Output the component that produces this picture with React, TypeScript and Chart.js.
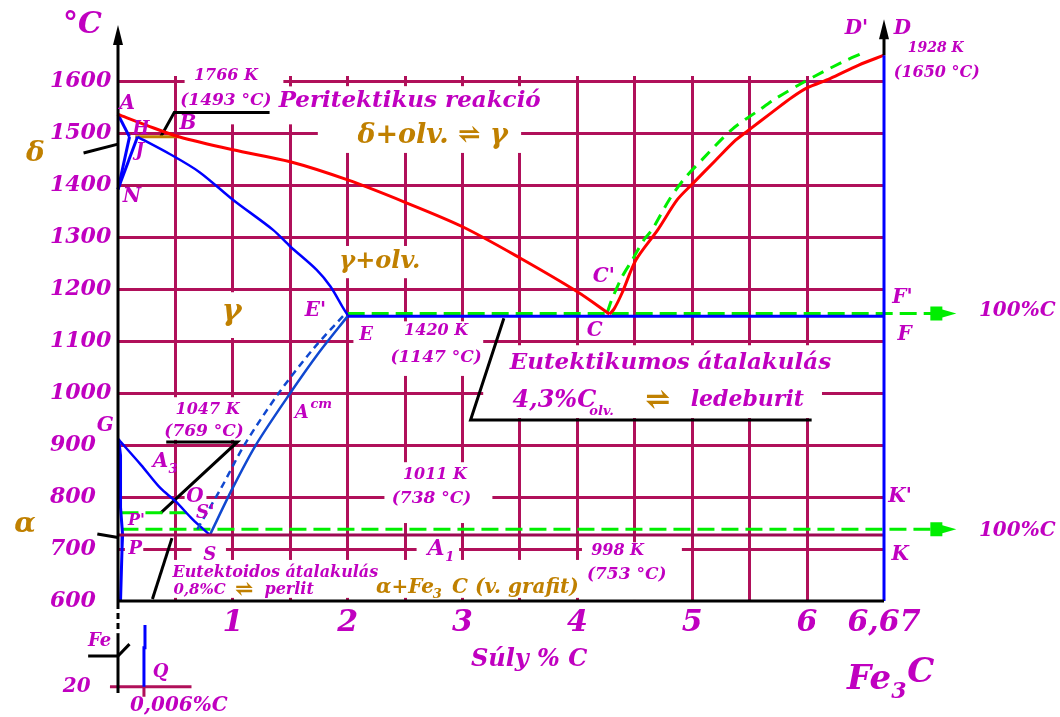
import React, { useEffect, useRef } from 'react';
import { Chart, registerables } from 'chart.js';

Chart.register(...registerables);

const MAG = '#c000c0';
const OCH = '#c08000';
const GRID = '#b0105a';
const EUTECTOID = '#9c0a52';
const BLUE = '#0000ff';
const ACM_BLUE = '#1048d0';
const GREEN = '#00ee00';
const FAMILY = '"DejaVu Serif", serif';

// ---- axis ticks ----
const tempTicks = [600, 700, 800, 900, 1000, 1100, 1200, 1300, 1400, 1500, 1600];
const carbonGrid = [0, 0.5, 1, 1.5, 2, 2.5, 3, 3.5, 4, 4.5, 5, 5.5, 6, 6.67];
const carbonLabels: Record<string, string> = { '1': '1', '2': '2', '3': '3', '4': '4', '5': '5', '6': '6', '6.67': '6,67' };

// ---- phase boundaries [ %C, °C ] ----
const liquidusAC: [number, number][] = [[0, 1536], [0.25, 1515], [0.53, 1493], [1.0, 1468], [1.5, 1445], [2.0, 1410], [2.5, 1367], [3.0, 1320], [3.5, 1260], [4.0, 1195], [4.28, 1152]];
const liquidusCD: [number, number][] = [[4.28, 1152], [4.32, 1162], [4.39, 1193], [4.51, 1256], [4.7, 1314], [4.87, 1372], [5.0, 1402], [5.2, 1447], [5.38, 1487], [5.48, 1504], [5.7, 1541], [5.87, 1569], [6.0, 1587], [6.2, 1605], [6.45, 1631], [6.67, 1650]];
const graphiteLiquidus: [number, number][] = [[4.26, 1155], [4.3, 1180], [4.39, 1224], [4.48, 1257], [4.58, 1295], [4.65, 1314], [4.8, 1372], [4.93, 1412], [5.09, 1450], [5.35, 1508], [5.58, 1544], [5.73, 1567], [5.97, 1598], [6.3, 1636], [6.48, 1654]];
const solidusJE: [number, number][] = [[0.17, 1493], [0.45, 1460], [0.71, 1425], [1.0, 1372], [1.35, 1314], [1.5, 1282], [1.73, 1237], [1.85, 1205], [1.96, 1164], [2.0, 1150]];
const deltaAH: [number, number][] = [[0, 1536], [0.1, 1493]];
const deltaNH: [number, number][] = [[0, 1392], [0.1, 1493]];
const deltaNJ: [number, number][] = [[0, 1392], [0.17, 1493]];
const peritecticHB: [number, number][] = [[0.15, 1493], [0.53, 1493]];
const eutecticEF: [number, number][] = [[2.0, 1148], [6.67, 1148]];
const graphiteEutectic: [number, number][] = [[2.0, 1153], [7.12, 1153]];
const acmES: [number, number][] = [[0.8, 727], [1.0, 818], [1.2, 900], [1.5, 1000], [1.75, 1078], [2.0, 1148]];
const acmGraphite: [number, number][] = [[0.69, 738], [0.9, 818], [1.1, 900], [1.4, 1000], [1.7, 1085], [1.98, 1153]];
const a3GS: [number, number][] = [[0, 912], [0.2, 862], [0.37, 817], [0.5, 792], [0.65, 757], [0.8, 727]];
const ferriteGP: [number, number][] = [[0.005, 912], [0.022, 880], [0.022, 780], [0.04, 727]];
const ferritePQ: [number, number][] = [[0.04, 727], [0.035, 700], [0.022, 600]];
const curieMO: [number, number][] = [[0.03, 770], [0.6, 770]];
const eutectoidPK: [number, number][] = [[0, 727], [6.67, 727]];
const graphiteEutectoid: [number, number][] = [[0.03, 738], [7.12, 738]];
const cementiteLine: [number, number][] = [[6.67, 600], [6.67, 1650]];
const cementiteTop: [number, number][] = [[6.67, 1650], [6.67, 1700]];
const axisLeftUpper: [number, number][] = [[0, 1690], [0, 596]];
const axisLeftBreak: [number, number][] = [[0, 596], [0, 538]];
const axisLeftLower: [number, number][] = [[0, 538], [0, 423]];
const axisBottom: [number, number][] = [[0, 600], [6.67, 600]];
// inset (room temperature, broken axis)
const insetQ: [number, number][] = [[0.235, 554], [0.235, 510], [0.226, 510], [0.226, 435]];
const insetRoomLine: [number, number][] = [[-0.07, 435], [0.64, 435]];
const insetTick: [number, number][] = [[0.226, 435], [0.226, 416]];
// leader lines
const deltaLeader: [number, number][] = [[-0.59, 1450], [-0.3, 1462], [0, 1479]];
const peritecticLeader: [number, number][] = [[0.37, 1492], [0.49, 1540], [1.32, 1540]];
const eutecticLeader: [number, number][] = [[3.36, 1144], [3.07, 948], [6.04, 948]];
const curieLeader: [number, number][] = [[0.37, 769], [1.04, 906], [0.42, 906]];
const alphaLeader: [number, number][] = [[-0.7, 736], [-0.4, 732], [-0.18, 729], [0, 722]];
const eutectoidLeader: [number, number][] = [[0.3, 604], [0.47, 721]];
const feLeader: [number, number][] = [[-0.26, 494], [0, 494], [0.1, 517]];

// arrow heads [tip %C, tip °C, direction, color]
const arrowHeads: [number, number, 'up' | 'right', string][] = [
  [0, 1708, 'up', '#000'], [6.67, 1719, 'up', '#000'],
  [7.3, 1153, 'right', GREEN], [7.3, 738, 'right', GREEN],
];

// white label backgrounds [x1, x2, t1, t2]
const whiteBoxes: [number, number, number, number][] = [
  [0.58, 1.44, 1629, 1588], [0.55, 3.95, 1590, 1517], [1.74, 3.51, 1590, 1462],
  [1.83, 2.73, 1283, 1221], [0.9, 1.1, 1194, 1106], [2.05, 3.18, 1138, 1033],
  [3.18, 6.13, 1092, 952], [0.43, 1.1, 992, 910], [2.32, 3.26, 867, 750],
  [2.6, 2.97, 717, 665], [4.04, 4.91, 713, 602], [2.21, 4.1, 679, 606],
  [0.41, 2.32, 679, 606], [0.58, 0.77, 819, 777], [0.06, 0.22, 717, 681], [0.64, 0.94, 717, 667],
];

// text labels [text, %C, °C, size, color]
const labels: [string, number, number, number, string][] = [
  ['°C', -0.31, 1708, 30, MAG], ['A', 0.08, 1556, 20, MAG], ['H', 0.2, 1508, 18, MAG], ['J', 0.19, 1465, 18, MAG],
  ['B', 0.61, 1519, 20, MAG], ['N', 0.12, 1377, 20, MAG], ['δ', -0.72, 1460, 28, OCH],
  ['1766 K', 0.94, 1610, 16, MAG], ['(1493 °C)', 0.94, 1562, 17, MAG], ['Peritektikus reakció', 2.54, 1562, 23, MAG],
  ['δ+olv. ⇌ γ', 2.74, 1494, 27, OCH], ['γ+olv.', 2.28, 1252, 24, OCH], ['γ', 0.99, 1156, 30, OCH],
  ["E'", 1.72, 1158, 20, MAG], ['E', 2.16, 1112, 18, MAG], ['1420 K', 2.77, 1119, 16, MAG], ['(1147 °C)', 2.77, 1069, 17, MAG],
  ['Eutektikumos átalakulás', 4.81, 1058, 23, MAG], ['4,3%C', 3.8, 985, 24, MAG], ['olv.', 4.21, 965, 13, MAG],
  ['⇌', 4.7, 985, 30, OCH], ['ledeburit', 5.48, 987, 22, MAG], ["C'", 4.23, 1223, 20, MAG], ['C', 4.15, 1119, 20, MAG],
  ["D'", 6.43, 1700, 20, MAG], ['D', 6.83, 1700, 20, MAG], ['1928 K', 7.12, 1663, 14, MAG], ['(1650 °C)', 7.13, 1617, 16, MAG],
  ["F'", 6.83, 1183, 20, MAG], ['F', 6.85, 1112, 20, MAG], ["K'", 6.81, 800, 20, MAG], ['K', 6.81, 688, 20, MAG],
  ['100%C', 7.83, 1158, 20, MAG], ['100%C', 7.83, 735, 20, MAG],
  ['1047 K', 0.78, 967, 16, MAG], ['(769 °C)', 0.75, 925, 17, MAG], ['G', -0.11, 938, 20, MAG],
  ['A', 1.6, 962, 18, MAG], ['cm', 1.77, 977, 13, MAG], ['A', 0.37, 867, 20, MAG], ['3', 0.48, 852, 13, MAG],
  ['O', 0.67, 800, 20, MAG], ["S'", 0.76, 769, 18, MAG], ["P'", 0.16, 754, 16, MAG], ['P', 0.15, 700, 18, MAG],
  ['S', 0.8, 688, 18, MAG], ['α', -0.81, 746, 28, OCH],
  ['Eutektoidos átalakulás', 1.37, 654, 16, MAG], ['0,8%C', 0.71, 621, 15, MAG], ['⇌', 1.1, 621, 22, OCH], ['perlit', 1.49, 621, 16, MAG],
  ['1011 K', 2.76, 842, 16, MAG], ['(738 °C)', 2.73, 798, 17, MAG], ['A', 2.77, 700, 22, MAG], ['1', 2.89, 683, 13, MAG],
  ['α+Fe', 2.5, 625, 20, OCH], ['3', 2.78, 613, 13, OCH], ['C (v. grafit)', 3.46, 625, 20, OCH],
  ['998 K', 4.35, 696, 16, MAG], ['(753 °C)', 4.43, 650, 17, MAG],
  ['Súly % C', 3.58, 487, 24, MAG], ['Fe', 6.54, 448, 34, MAG], ['3', 6.8, 425, 22, MAG], ['C', 6.99, 462, 34, MAG],
  ['Fe', -0.16, 523, 18, MAG], ['20', -0.36, 435, 20, MAG], ['Q', 0.37, 462, 18, MAG], ['0,006%C', 0.53, 398, 20, MAG],
];

const font = (size: number) => `italic bold ${size}px ${FAMILY}`;

const annotate = {
  id: 'annotate',
  beforeDatasetsDraw(chart: any) {
    const { ctx, scales } = chart;
    const sx = scales.x, sy = scales.y;
    ctx.save();
    ctx.fillStyle = '#ffffff';
    whiteBoxes.forEach(([x1, x2, t1, t2]) => {
      const px1 = sx.getPixelForValue(x1), px2 = sx.getPixelForValue(x2);
      const py1 = sy.getPixelForValue(t1), py2 = sy.getPixelForValue(t2);
      ctx.fillRect(px1, py1, px2 - px1, py2 - py1);
    });
    ctx.restore();
  },
  afterDatasetsDraw(chart: any) {
    const { ctx, scales } = chart;
    const sx = scales.x, sy = scales.y;
    ctx.save();
    arrowHeads.forEach(([x, t, dir, color]) => {
      const px = sx.getPixelForValue(x), py = sy.getPixelForValue(t);
      ctx.fillStyle = color;
      ctx.beginPath();
      if (dir === 'up') {
        ctx.moveTo(px, py);
        ctx.lineTo(px + 5, py + 20);
        ctx.lineTo(px - 5, py + 20);
      } else {
        ctx.moveTo(px, py);
        ctx.lineTo(px - 14, py - 4);
        ctx.lineTo(px - 14, py - 7);
        ctx.lineTo(px - 26, py - 7);
        ctx.lineTo(px - 26, py + 7);
        ctx.lineTo(px - 14, py + 7);
        ctx.lineTo(px - 14, py + 4);
      }
      ctx.closePath();
      ctx.fill();
    });
    ctx.textAlign = 'center';
    ctx.textBaseline = 'middle';
    labels.forEach(([text, x, t, size, color]) => {
      ctx.font = font(size);
      ctx.fillStyle = color;
      ctx.fillText(text, sx.getPixelForValue(x), sy.getPixelForValue(t));
    });
    ctx.restore();
  },
};

type Pts = [number, number][];
const line = (pts: Pts, color: string, width = 3, dash: number[] = [], tension = 0) => ({
  data: pts.map(([x, y]) => ({ x, y })),
  showLine: true,
  borderColor: color,
  backgroundColor: color,
  borderWidth: width,
  borderDash: dash,
  tension,
  clip: false as const,
  pointRadius: 0,
  pointHoverRadius: 0,
});

export default function App() {
  const ref = useRef<HTMLCanvasElement>(null);
  useEffect(() => {
    if (!ref.current) return;
    const datasets: any[] = [
      line(axisLeftUpper, '#000', 3),
      line(axisLeftBreak, '#000', 3, [6, 4]),
      line(axisLeftLower, '#000', 3),
      line(axisBottom, '#000', 3),
      line(cementiteTop, '#000', 3),
      line(cementiteLine, BLUE, 3),
      line(eutectoidPK, EUTECTOID, 3),
      line(liquidusAC, '#ff0000', 3, [], 0.3),
      line(liquidusCD, '#ff0000', 3, [], 0.3),
      line(graphiteLiquidus, GREEN, 3, [12, 8], 0.3),
      line(solidusJE, BLUE, 2.5, [], 0.3),
      line(deltaAH, BLUE, 3),
      line(deltaNH, BLUE, 3),
      line(deltaNJ, BLUE, 3),
      line(peritecticHB, OCH, 3),
      line(eutecticEF, BLUE, 3),
      line(graphiteEutectic, GREEN, 3, [17, 7]),
      line(acmES, ACM_BLUE, 2.5, [], 0.3),
      line(acmGraphite, ACM_BLUE, 2.5, [7, 5], 0.3),
      line(a3GS, BLUE, 2.5, [], 0.3),
      line(ferriteGP, BLUE, 3),
      line(ferritePQ, BLUE, 3),
      line(curieMO, GREEN, 3, [17, 7]),
      line(graphiteEutectoid, GREEN, 3, [17, 7]),
      line(insetQ, BLUE, 3),
      line(insetRoomLine, GRID, 3),
      line(insetTick, GRID, 3),
      line(deltaLeader, '#000', 3),
      line(peritecticLeader, '#000', 3),
      line(eutecticLeader, '#000', 3),
      line(curieLeader, '#000', 3),
      line(alphaLeader, '#000', 3),
      line(eutectoidLeader, '#000', 3),
      line(feLeader, '#000', 3),
    ];
    const chart = new Chart(ref.current, {
      type: 'scatter',
      data: { datasets },
      options: {
        animation: false,
        responsive: false,
        devicePixelRatio: 1,
        layout: { padding: { left: 50, right: 176, top: 76, bottom: 0 } },
        plugins: { legend: { display: false }, tooltip: { enabled: false } },
        scales: {
          x: {
            type: 'linear',
            min: 0,
            max: 6.67,
            border: { display: false },
            afterBuildTicks: (s: any) => { s.ticks = carbonGrid.map((v) => ({ value: v })); },
            afterFit: (s: any) => { s.height = 116; },
            grid: {
              drawTicks: false,
              lineWidth: 3,
              color: (c: any) => (c.tick && (c.tick.value === 0 || c.tick.value === 6.67) ? 'rgba(0,0,0,0)' : GRID),
            },
            ticks: {
              autoSkip: false,
              maxRotation: 0,
              padding: 4,
              color: MAG,
              font: { family: FAMILY, size: 30, style: 'italic', weight: 'bold' },
              callback: (v: any) => carbonLabels[String(v)] ?? '',
            },
          },
          y: {
            type: 'linear',
            min: 600,
            max: 1610,
            border: { display: false },
            afterBuildTicks: (s: any) => { s.ticks = tempTicks.map((v) => ({ value: v })); },
            afterFit: (s: any) => { s.width = 68; },
            grid: {
              drawTicks: false,
              lineWidth: 3,
              color: (c: any) => (c.tick && c.tick.value === 600 ? 'rgba(0,0,0,0)' : GRID),
            },
            ticks: {
              crossAlign: 'far',
              padding: 8,
              color: MAG,
              font: { family: FAMILY, size: 22, style: 'italic', weight: 'bold' },
              callback: (v: any) => String(v),
            },
          },
        },
      },
      plugins: [annotate],
    });
    return () => chart.destroy();
  }, []);
  return (
    <div style={{ position: 'absolute', left: 0, top: 0, width: 1060, height: 717, background: '#fff' }}>
      <canvas ref={ref} width={1060} height={717} style={{ display: 'block' }} />
    </div>
  );
}
